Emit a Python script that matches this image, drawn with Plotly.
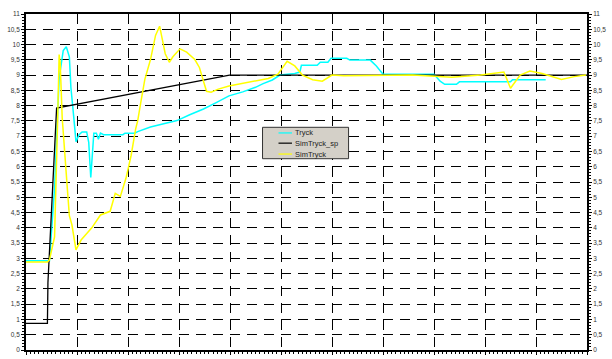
import plotly.graph_objects as go

# Time axis in grid units (one major division per unit), pressure in bar
tryck_t = [0.00, 0.46, 0.56, 0.65, 0.73, 0.79, 0.85, 0.88, 0.94, 0.98, 1.04, 1.10,
           1.19, 1.23, 1.27, 1.31, 1.33, 1.38, 1.42, 1.46, 1.52, 1.90, 1.94, 2.13,
           2.19, 2.44, 2.67, 2.96, 3.21, 3.48, 3.73, 3.98, 4.25, 4.50, 4.65, 4.83,
           4.98, 5.27, 5.37, 5.40, 5.71, 5.77, 5.92, 5.98, 6.29, 6.35, 6.75, 6.87,
           7.00, 8.00, 8.12, 8.21, 8.44, 8.50, 9.50, 9.54, 10.19]
tryck_v = [2.92, 2.92, 5.30, 8.90, 9.80, 9.93, 9.60, 8.60, 7.56, 6.82, 7.05, 7.14,
           7.14, 6.80, 5.65, 6.80, 7.10, 7.10, 6.90, 7.10, 7.05, 7.05, 7.10, 7.10,
           7.15, 7.30, 7.40, 7.51, 7.70, 7.89, 8.10, 8.32, 8.45, 8.60, 8.72, 8.84,
           9.00, 9.05, 9.10, 9.32, 9.32, 9.42, 9.42, 9.55, 9.55, 9.49, 9.49, 9.30,
           9.03, 9.03, 8.80, 8.70, 8.70, 8.78, 8.78, 8.85, 8.85]

sp_t = [0.00, 0.42, 0.43, 0.60, 3.99, 11.00]
sp_v = [0.87, 0.87, 2.20, 7.92, 9.00, 9.00]

sim_t = [0.00, 0.42, 0.46, 0.56, 0.62, 0.65, 0.67, 0.71, 0.81, 0.85, 0.90, 0.98,
         1.08, 1.29, 1.46, 1.56, 1.65, 1.75, 1.85, 1.96, 2.06, 2.15, 2.19, 2.25,
         2.33, 2.44, 2.54, 2.62, 2.67, 2.73, 2.81, 2.88, 3.02, 3.15, 3.31, 3.40,
         3.48, 3.54, 3.63, 3.77, 3.98, 4.44, 4.75, 4.94, 5.12, 5.27, 5.42, 5.62,
         5.81, 6.00, 6.23, 7.58, 8.35, 8.92, 9.37, 9.42, 9.50, 9.60, 9.69, 9.88,
         10.12, 10.50, 10.75, 10.98]
sim_v = [2.88, 2.88, 2.95, 3.70, 7.50, 9.67, 9.40, 7.60, 5.30, 4.40, 4.10, 3.28,
         3.60, 4.00, 4.42, 4.48, 4.54, 5.13, 5.03, 5.62, 6.36, 7.24, 7.50, 8.10,
         8.86, 9.50, 10.30, 10.60, 10.20, 9.70, 9.42, 9.60, 9.86, 9.75, 9.51, 9.25,
         8.80, 8.47, 8.44, 8.54, 8.64, 8.80, 8.89, 9.03, 9.45, 9.30, 9.00, 8.85,
         8.80, 9.00, 8.98, 9.00, 8.93, 9.00, 9.10, 8.90, 8.57, 8.80, 9.00, 9.13,
         9.05, 8.86, 8.95, 9.00]

series_names = ["Tryck", "SimTryck_sp", "SimTryck"]
series_colors = ["#00FFFF", "#000000", "#FFFF00"]

fig = go.Figure()
fig.add_trace(go.Scatter(x=tryck_t, y=tryck_v, mode="lines", name=series_names[0],
                         line=dict(color=series_colors[0], width=1.5), yaxis="y"))
fig.add_trace(go.Scatter(x=sp_t, y=sp_v, mode="lines", name=series_names[1],
                         line=dict(color=series_colors[1], width=1.3), yaxis="y2"))
fig.add_trace(go.Scatter(x=sim_t, y=sim_v, mode="lines", name=series_names[2],
                         line=dict(color=series_colors[2], width=1.5), yaxis="y2"))

tick_font = dict(family="Liberation Sans, Arial, sans-serif", size=6.5, color="#333333")
minor_y = dict(dtick=0.1, ticklen=2, ticks="outside", tickcolor="black", tickwidth=1)

fig.update_layout(
    width=612, height=359,
    margin=dict(l=26, r=15, t=14, b=6),
    paper_bgcolor="white", plot_bgcolor="white",
    separators=", ",
    showlegend=False,
    xaxis=dict(range=[0, 11], dtick=1, tick0=0, showticklabels=False,
               ticks="outside", ticklen=3, tickcolor="black",
               showgrid=True, gridcolor="black", gridwidth=1, griddash="10px,7px",
               showline=True, linecolor="black", linewidth=1.8, mirror=True,
               zeroline=False,
               minor=dict(dtick=1/12, ticklen=2, ticks="outside", tickcolor="black")),
    yaxis=dict(range=[0, 11], dtick=0.5, tick0=0, tickfont=tick_font,
               ticks="outside", ticklen=3, tickcolor="black",
               showgrid=True, gridcolor="black", gridwidth=1, griddash="10px,7px",
               showline=True, linecolor="black", linewidth=1.8,
               zeroline=False, minor=minor_y),
    yaxis2=dict(range=[0, 11], dtick=0.5, tick0=0, tickfont=tick_font,
                overlaying="y", side="right", matches="y",
                ticks="outside", ticklen=3, tickcolor="black",
                showgrid=False, showline=True, linecolor="black", linewidth=1.8,
                zeroline=False, minor=minor_y),
)

# Legend box drawn in paper coordinates
box = dict(x0=0.4216, x1=0.5750, y0=0.5693, y1=0.6628)
fig.add_shape(type="rect", xref="paper", yref="paper", **box,
              fillcolor="#D4D0C8", line=dict(color="#333333", width=1), layer="above")
rows = [0.6460, 0.6156, 0.5832]
for name, color, yy in zip(series_names, series_colors, rows):
    fig.add_shape(type="line", xref="paper", yref="paper", x0=0.4501, x1=0.4741,
                  y0=yy, y1=yy, line=dict(color=color, width=1.2), layer="above")
    fig.add_annotation(xref="paper", yref="paper", x=0.4758, y=yy, text=name,
                       showarrow=False, xanchor="left", yanchor="middle",
                       font=dict(family="Liberation Sans, Arial, sans-serif",
                                 size=7.5, color="#222222"))

fig.write_html("out.html")
